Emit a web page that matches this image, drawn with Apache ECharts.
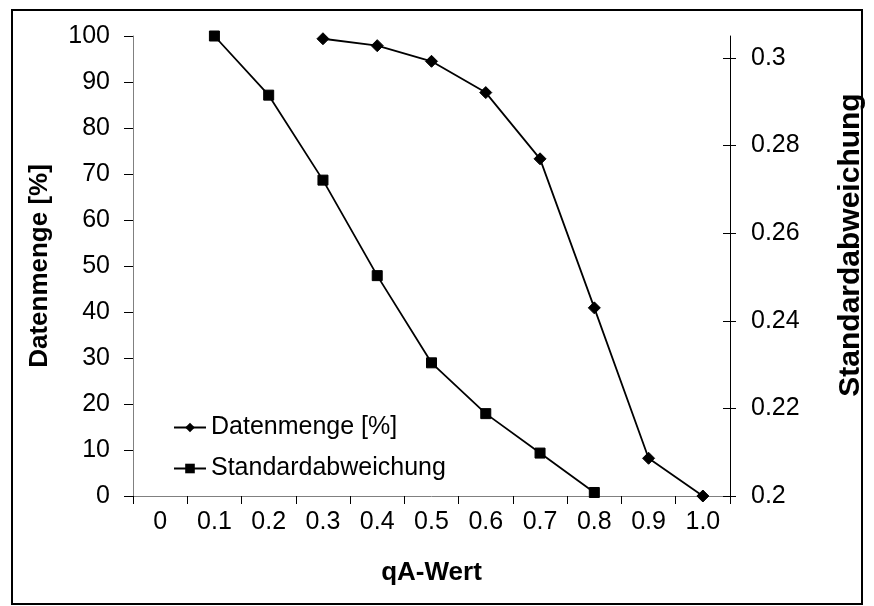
<!DOCTYPE html>
<html>
<head>
<meta charset="utf-8">
<script src="https://cdn.jsdelivr.net/npm/echarts@6/dist/echarts.min.js"></script>
<style>
  html, body { margin: 0; padding: 0; background: #fff; }
  #chart { width: 874px; height: 606px; }
</style>
</head>
<body>
<div id="chart"></div>
<script>
// qA-Wert categories along the x axis
const categories = ['0', '0.1', '0.2', '0.3', '0.4', '0.5', '0.6', '0.7', '0.8', '0.9', '1.0'];
// Datenmenge in percent (left axis)
const datenmenge = [null, null, null, 99.4, 97.9, 94.5, 87.7, 73.3, 40.9, 8.2, 0];
// Standardabweichung (right axis)
const standardabweichung = [null, 0.305, 0.2915, 0.2721, 0.2503, 0.2304, 0.2188, 0.2098, 0.2008, null, null];
// Tick values on the right axis
const rightTicks = [0.2, 0.22, 0.24, 0.26, 0.28, 0.3];

const FONT = '"Liberation Sans", Arial, sans-serif';
const FS = 25;
const AXIS_GREY = '#808080';

const chart = echarts.init(document.getElementById('chart'), null, { renderer: 'canvas' });

chart.setOption({
  animation: false,
  backgroundColor: '#fff',
  textStyle: { fontFamily: FONT },
  graphic: [{
    type: 'rect',
    shape: { x: 12, y: 10, width: 850, height: 594 },
    style: { fill: 'none', stroke: '#000', lineWidth: 2 },
    silent: true
  }],
  grid: { left: 133, right: 142, top: 36, bottom: 110 },
  legend: {
    orient: 'vertical',
    left: 168,
    top: 410,
    itemWidth: 32,
    itemHeight: 12,
    itemGap: 16,
    textStyle: { fontFamily: FONT, fontSize: FS, color: '#000' },
    data: ['Datenmenge [%]', 'Standardabweichung']
  },
  xAxis: {
    type: 'category',
    data: categories,
    boundaryGap: true,
    name: 'qA-Wert',
    nameLocation: 'middle',
    nameGap: 64,
    nameTextStyle: { fontFamily: FONT, fontSize: 26, fontWeight: 'bold', color: '#000' },
    axisLine: { lineStyle: { color: AXIS_GREY, width: 1 } },
    axisTick: { show: true, inside: false, length: 8, alignWithLabel: false, lineStyle: { color: '#000' } },
    axisLabel: { fontFamily: FONT, fontSize: FS, color: '#000', margin: 14, interval: 0 },
    splitLine: { show: false }
  },
  yAxis: [
    {
      type: 'value',
      position: 'left',
      min: 0,
      max: 100,
      interval: 10,
      name: 'Datenmenge [%]',
      nameLocation: 'middle',
      nameRotate: 90,
      nameGap: 80,
      nameTextStyle: { fontFamily: FONT, fontSize: 26, fontWeight: 'bold', color: '#000' },
      axisLine: { show: true, lineStyle: { color: AXIS_GREY, width: 1 } },
      axisTick: { show: true, inside: false, length: 9, lineStyle: { color: '#000' } },
      axisLabel: { fontFamily: FONT, fontSize: FS, color: '#000', margin: 23 },
      splitLine: { show: false }
    },
    {
      type: 'value',
      position: 'right',
      min: 0.2,
      max: 0.305,
      name: 'Standardabweichung',
      nameLocation: 'middle',
      nameRotate: 90,
      nameGap: 106,
      nameTextStyle: { fontFamily: FONT, fontSize: 30, fontWeight: 'bold', color: '#000', padding: [0, 0, 0, 42] },
      axisLine: { show: true, lineStyle: { color: '#000', width: 1 } },
      axisTick: { show: true, inside: false, length: 6, customValues: rightTicks, lineStyle: { color: '#000' } },
      axisLabel: {
        fontFamily: FONT, fontSize: FS, color: '#000', margin: 21,
        customValues: rightTicks,
        formatter: v => String(Math.round(v * 100) / 100)
      },
      splitLine: { show: false }
    },
    {
      // inner half of the crossing ticks on the right axis
      type: 'value',
      position: 'right',
      min: 0.2,
      max: 0.305,
      axisLine: { show: false },
      axisTick: { show: true, inside: true, length: 7, customValues: rightTicks, lineStyle: { color: '#000' } },
      axisLabel: { show: false },
      splitLine: { show: false }
    }
  ],
  series: [
    {
      name: 'Datenmenge [%]',
      type: 'line',
      yAxisIndex: 0,
      data: datenmenge,
      connectNulls: false,
      symbol: 'diamond',
      symbolSize: 12,
      showAllSymbol: true,
      lineStyle: { color: '#000', width: 1.8 },
      itemStyle: { color: '#000', borderColor: '#000' },
      z: 3
    },
    {
      name: 'Standardabweichung',
      type: 'line',
      yAxisIndex: 1,
      data: standardabweichung,
      connectNulls: false,
      symbol: 'rect',
      symbolSize: 10,
      showAllSymbol: true,
      lineStyle: { color: '#000', width: 1.8 },
      itemStyle: { color: '#000', borderColor: '#000' },
      z: 3
    }
  ]
});
</script>
</body>
</html>
